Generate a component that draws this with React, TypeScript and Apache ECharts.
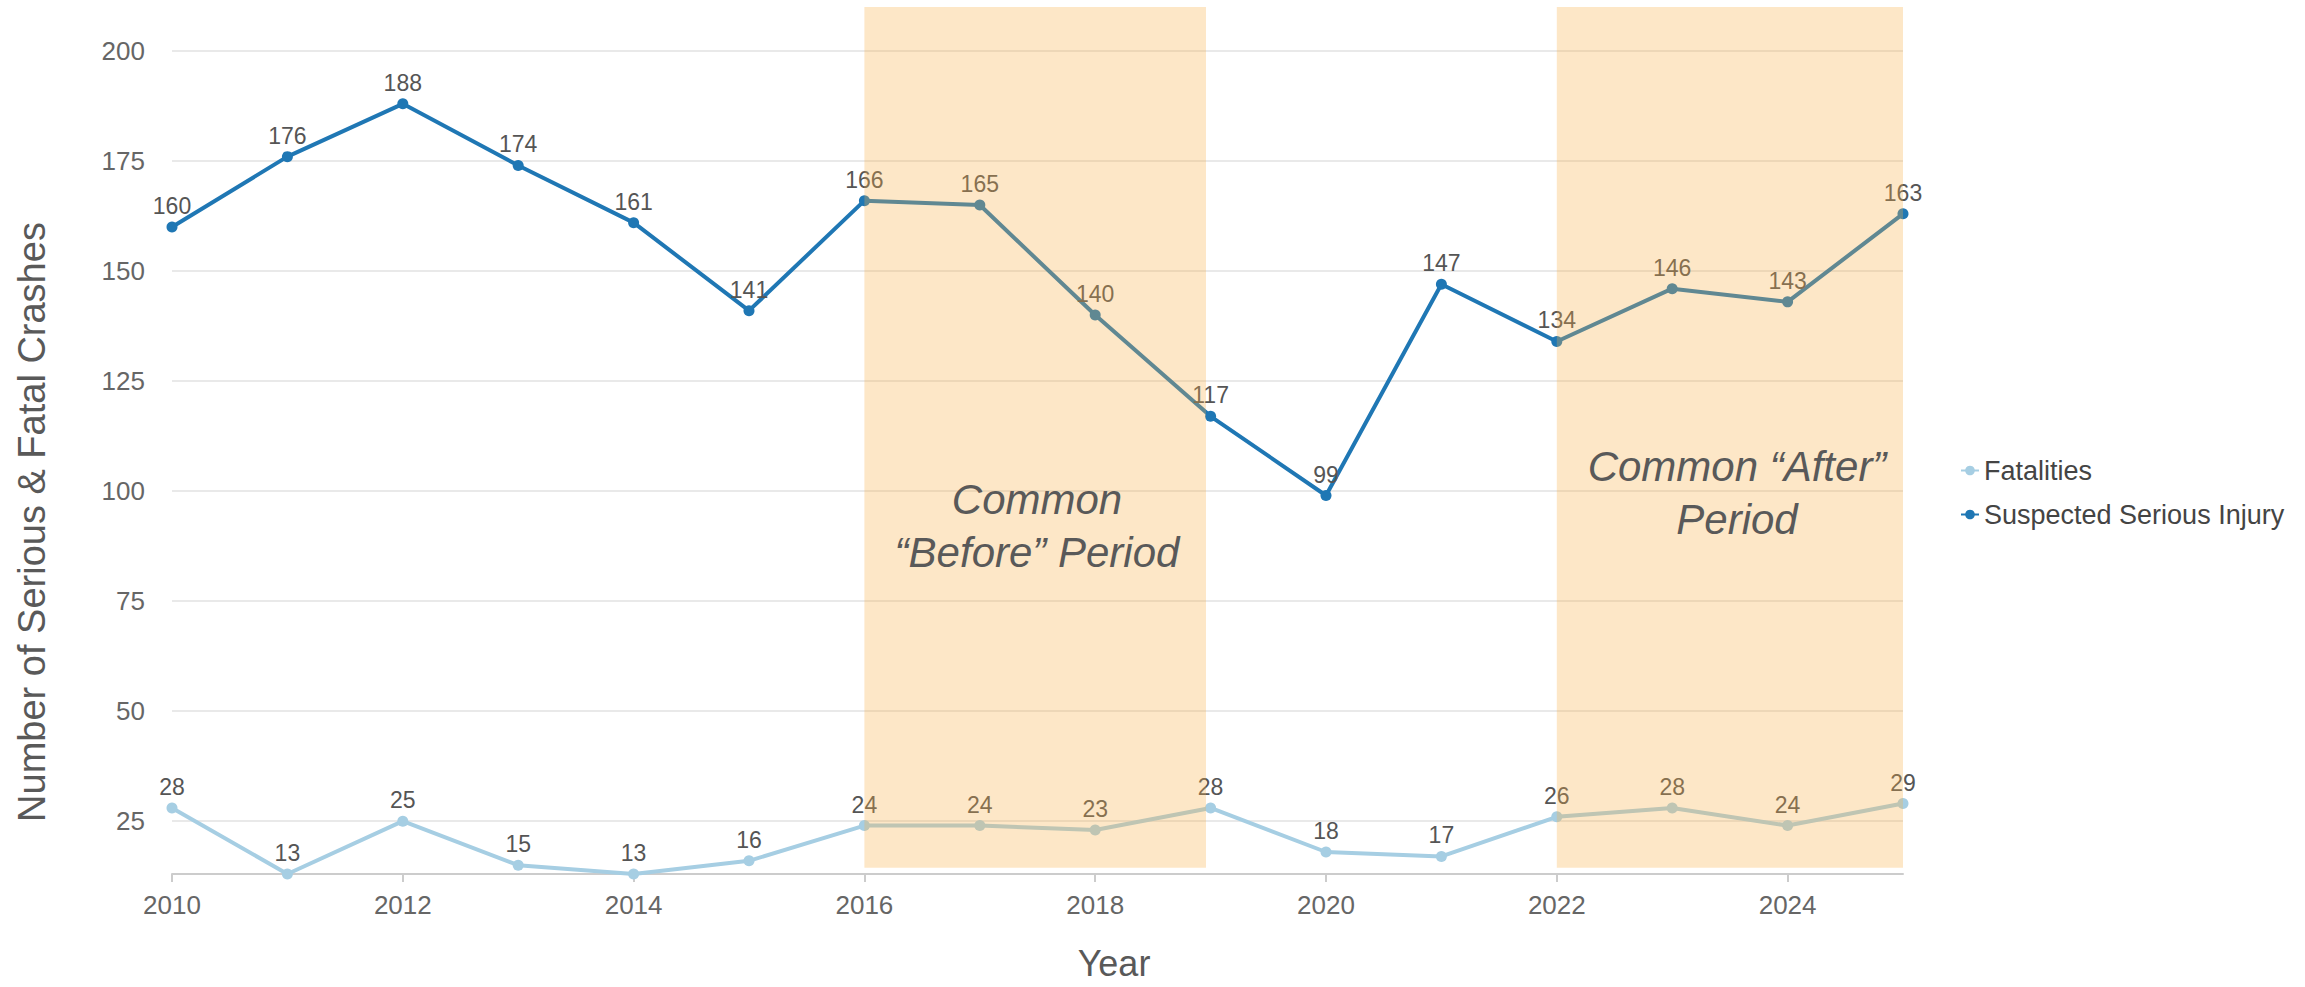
import React, { useEffect, useRef } from "react";
import * as echarts from "echarts";

const years = [2010, 2011, 2012, 2013, 2014, 2015, 2016, 2017, 2018, 2019, 2020, 2021, 2022, 2023, 2024, 2025];
const fatalities = [28, 13, 25, 15, 13, 16, 24, 24, 23, 28, 18, 17, 26, 28, 24, 29];
const seriousInjury = [160, 176, 188, 174, 161, 141, 166, 165, 140, 117, 99, 147, 134, 146, 143, 163];
const yTicks = [25, 50, 75, 100, 125, 150, 175, 200];
const xTicks = [2010, 2012, 2014, 2016, 2018, 2020, 2022, 2024];
const beforePeriod = [2016, 2018.96];
const afterPeriod = [2022, 2025.04];
const seriesNames = ["Fatalities", "Suspected Serious Injury"];

const FONT = "'Liberation Sans', Arial, Helvetica, sans-serif";

export default function App() {
  const ref = useRef<HTMLDivElement>(null);
  useEffect(() => {
    if (!ref.current) return;
    const chart = echarts.init(ref.current, null, { renderer: "svg" });
    const labelStyle = { show: true, position: "top", distance: 4, color: "#555", fontSize: 23, fontFamily: FONT };
    const bandStyle = { color: "rgba(247,175,70,0.3)" };
    chart.setOption({
      animation: false,
      backgroundColor: "#fff",
      grid: { left: 172, right: 402, top: 7, bottom: 113, containLabel: false },
      xAxis: {
        type: "value",
        min: 2010,
        max: 2025,
        axisLine: { show: true, lineStyle: { color: "#ccc", width: 2 } },
        axisTick: { show: true, length: 8, customValues: xTicks, lineStyle: { color: "#ccc", width: 2 } },
        splitLine: { show: false },
        axisLabel: {
          color: "#666",
          fontSize: 26,
          fontFamily: FONT,
          margin: 18,
          customValues: xTicks,
          formatter: (v: number) => String(v),
        },
      },
      yAxis: {
        type: "value",
        min: 13,
        max: 210,
        axisLine: { show: false },
        axisTick: { show: false, customValues: yTicks },
        axisLabel: { color: "#666", fontSize: 26, fontFamily: FONT, margin: 27, customValues: yTicks },
        splitLine: { show: true, lineStyle: { color: "#e9e9e9", width: 2 } },
      },
      legend: {
        data: seriesNames,
        orient: "vertical",
        left: 1955,
        top: 452,
        itemGap: 17,
        itemWidth: 18,
        itemHeight: 12,
        textStyle: { color: "#444", fontSize: 27, fontFamily: FONT },
      },
      series: [
        {
          name: seriesNames[0],
          type: "line",
          data: years.map((y, i) => [y, fatalities[i]]),
          color: "#a6cee3",
          lineStyle: { width: 4 },
          symbol: "circle",
          symbolSize: 11,
          label: labelStyle,
          z: 2,
        },
        {
          name: seriesNames[1],
          type: "line",
          data: years.map((y, i) => [y, seriousInjury[i]]),
          color: "#1f77b4",
          lineStyle: { width: 4 },
          symbol: "circle",
          symbolSize: 11,
          label: labelStyle,
          z: 2,
        },
        {
          name: "bands",
          type: "line",
          data: [],
          silent: true,
          z: 20,
          markArea: {
            silent: true,
            z: 20,
            itemStyle: bandStyle,
            data: [
              [{ xAxis: beforePeriod[0], yAxis: 14.4 }, { xAxis: beforePeriod[1], yAxis: 210 }],
              [{ xAxis: afterPeriod[0], yAxis: 14.4 }, { xAxis: afterPeriod[1], yAxis: 210 }],
            ],
          },
        },
      ],
      graphic: [
        {
          type: "text",
          x: 32,
          y: 522,
          rotation: Math.PI / 2,
          z: 100,
          style: {
            text: "Number of Serious & Fatal Crashes",
            fill: "#595959",
            font: `38px ${FONT}`,
            textAlign: "center",
            textVerticalAlign: "middle",
          },
        },
        {
          type: "text",
          x: 1114,
          y: 963,
          z: 100,
          style: {
            text: "Year",
            fill: "#595959",
            font: `36px ${FONT}`,
            textAlign: "center",
            textVerticalAlign: "middle",
          },
        },
        {
          type: "text",
          x: 1037,
          y: 526,
          z: 100,
          style: {
            text: "Common\n\u201cBefore\u201d Period",
            fill: "#595959",
            font: `italic 42px ${FONT}`,
            lineHeight: 53,
            textAlign: "center",
            textVerticalAlign: "middle",
          },
        },
        {
          type: "text",
          x: 1737,
          y: 493,
          z: 100,
          style: {
            text: "Common \u201cAfter\u201d\nPeriod",
            fill: "#595959",
            font: `italic 42px ${FONT}`,
            lineHeight: 53,
            textAlign: "center",
            textVerticalAlign: "middle",
          },
        },
      ],
    });
    return () => chart.dispose();
  }, []);
  return <div ref={ref} style={{ position: "fixed", left: 0, top: 0, width: 2305, height: 987 }} />;
}
